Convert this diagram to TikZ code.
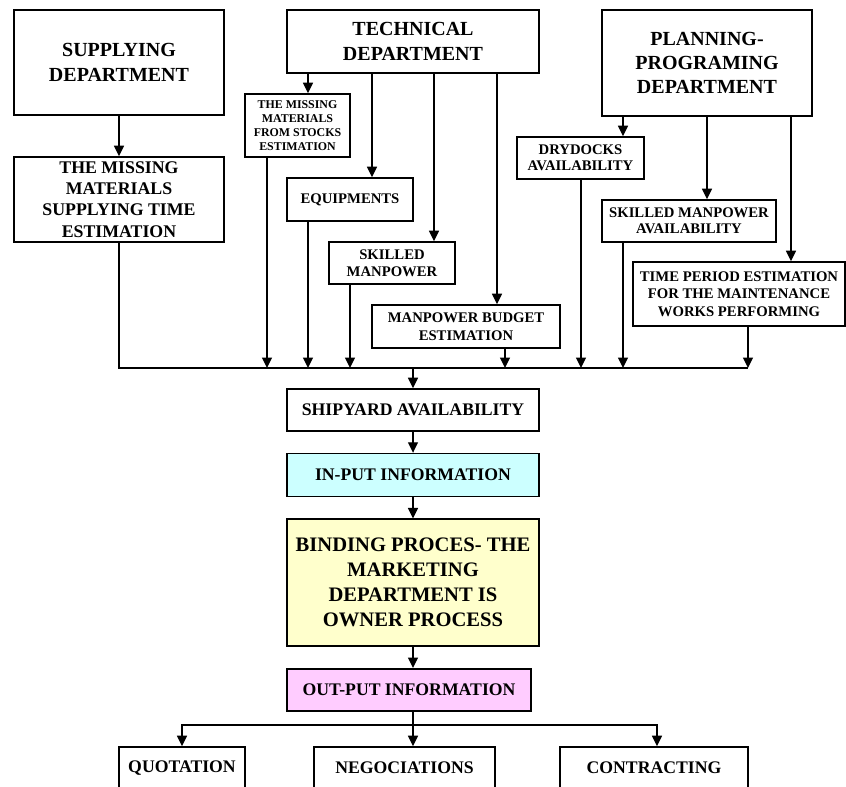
\documentclass[tikz,border=0pt]{standalone}
\usepackage{fontspec}
\setmainfont{Liberation Serif}
\usetikzlibrary{arrows.meta, positioning}
\definecolor{inputfill}{HTML}{CCFFFF}
\definecolor{bindfill}{HTML}{FFFFCC}
\definecolor{outputfill}{HTML}{FFCCFF}

\begin{document}
\begin{tikzpicture}[
  x=1pt, y=-1pt,
  box/.style={rectangle, draw, line width=1.6pt, align=center, inner sep=0pt},
  deptbox/.style={box, font=\bfseries\fontsize{20}{24.3}\selectfont},
  midbox/.style={box, font=\bfseries\fontsize{17.8}{21.3}\selectfont},
  smallbox/.style={box, font=\bfseries\fontsize{14.7}{17.5}\selectfont},
  tinybox/.style={box, font=\bfseries\fontsize{11.9}{14.2}\selectfont},
  flowbox/.style={box, font=\bfseries\fontsize{17.7}{21}\selectfont, minimum height=42pt},
  arr/.style={-{Triangle[length=10.5pt, width=10pt]}, line width=1.3pt},
  wire/.style={line width=1.3pt},
  node distance=21pt]
\useasboundingbox (0,0) rectangle (846,787);
\clip (0,0) rectangle (846,787);

% departments
\node[deptbox, minimum width=210pt, minimum height=105pt] (supply) at (119,62.5) {SUPPLYING\\DEPARTMENT};
\node[deptbox, minimum width=252pt, minimum height=63pt] (tech) at (413,41.5) {TECHNICAL\\DEPARTMENT};
\node[deptbox, minimum width=210pt, minimum height=106pt] (plan) at (707,63) {PLANNING-\\PROGRAMING\\DEPARTMENT};

% estimations
\node[midbox, minimum width=210pt, minimum height=85pt] (suptime) at (119,199.5) {THE MISSING\\MATERIALS\\SUPPLYING TIME\\ESTIMATION};
\node[tinybox, minimum width=105pt, minimum height=63pt] (stocks) at (297.5,125.5) {THE MISSING\\MATERIALS\\FROM STOCKS\\ESTIMATION};
\node[smallbox, minimum width=126pt, minimum height=43pt] (equip) at (350,199.5) {EQUIPMENTS};
\node[smallbox, minimum width=126pt, minimum height=42pt] (skilled) at (392,263) {SKILLED\\MANPOWER};
\node[smallbox, minimum width=188pt, minimum height=43pt] (budget) at (466,326.5) {MANPOWER BUDGET\\ESTIMATION};
\node[smallbox, minimum width=127pt, minimum height=42pt, font=\bfseries\fontsize{14.7}{16}\selectfont] (drydock) at (580.5,158) {DRYDOCKS\\AVAILABILITY};
\node[smallbox, minimum width=174pt, minimum height=42pt, font=\bfseries\fontsize{14.7}{16}\selectfont] (skillav) at (689,221) {SKILLED MANPOWER\\AVAILABILITY};
\node[smallbox, minimum width=212pt, minimum height=64pt] (timeper) at (739,294) {TIME PERIOD ESTIMATION\\FOR THE MAINTENANCE\\WORKS PERFORMING};

% central column
\node[flowbox, minimum width=252pt] (ship) at (413,410) {SHIPYARD AVAILABILITY};
\node[flowbox, fill=inputfill, minimum width=252pt, minimum height=43pt, below=of ship] (input) {IN-PUT INFORMATION};
\node[box, fill=bindfill, font=\bfseries\fontsize{20.6}{25}\selectfont, minimum width=252pt, minimum height=127pt, below=of input] (bind) {BINDING PROCES- THE\\MARKETING\\DEPARTMENT IS\\OWNER PROCESS};
\node[flowbox, fill=outputfill, minimum width=244pt, below=of bind, xshift=-4pt] (output) {OUT-PUT INFORMATION};

% results
\node[flowbox, minimum width=126pt] (quot) at (182,768) {QUOTATION};
\node[flowbox, minimum width=181pt] (nego) at (404.5,768) {NEGOCIATIONS};
\node[flowbox, minimum width=188pt] (contr) at (654,768) {CONTRACTING};

\coordinate (busR) at (748,368);
\coordinate (fork) at (413,725);

\draw[arr] (supply) -- (suptime);
\draw[arr] (308,0 |- tech.south) -- (308,0 |- stocks.north);
\draw[arr] (372,0 |- tech.south) -- (372,0 |- equip.north);
\draw[arr] (434,0 |- tech.south) -- (434,0 |- skilled.north);
\draw[arr] (497,0 |- tech.south) -- (497,0 |- budget.north);
\draw[arr] (623,0 |- plan.south) -- (623,0 |- drydock.north);
\draw[arr] (plan.south) -- (707,0 |- skillav.north);
\draw[arr] (791,0 |- plan.south) -- (791,0 |- timeper.north);

\draw[wire] (suptime.south) |- (busR);
\draw[arr] (267,0 |- stocks.south) -- (267,0 |- busR);
\draw[arr] (308,0 |- equip.south) -- (308,0 |- busR);
\draw[arr] (350,0 |- skilled.south) -- (350,0 |- busR);
\draw[arr] (505,0 |- budget.south) -- (505,0 |- busR);
\draw[arr] (581,0 |- drydock.south) -- (581,0 |- busR);
\draw[arr] (623,0 |- skillav.south) -- (623,0 |- busR);
\draw[arr] (748,0 |- timeper.south) -- (busR);

\draw[arr] (ship.north |- busR) -- (ship);
\draw[arr] (ship) -- (input);
\draw[arr] (input) -- (bind);
\draw[arr] (bind.south) -- (bind.south |- output.north);
\draw[arr] (fork |- output.south) -- (fork |- nego.north);
\draw[arr] (fork) -| (quot.north);
\draw[arr] (fork) -| (657,0 |- contr.north);
\end{tikzpicture}
\end{document}
